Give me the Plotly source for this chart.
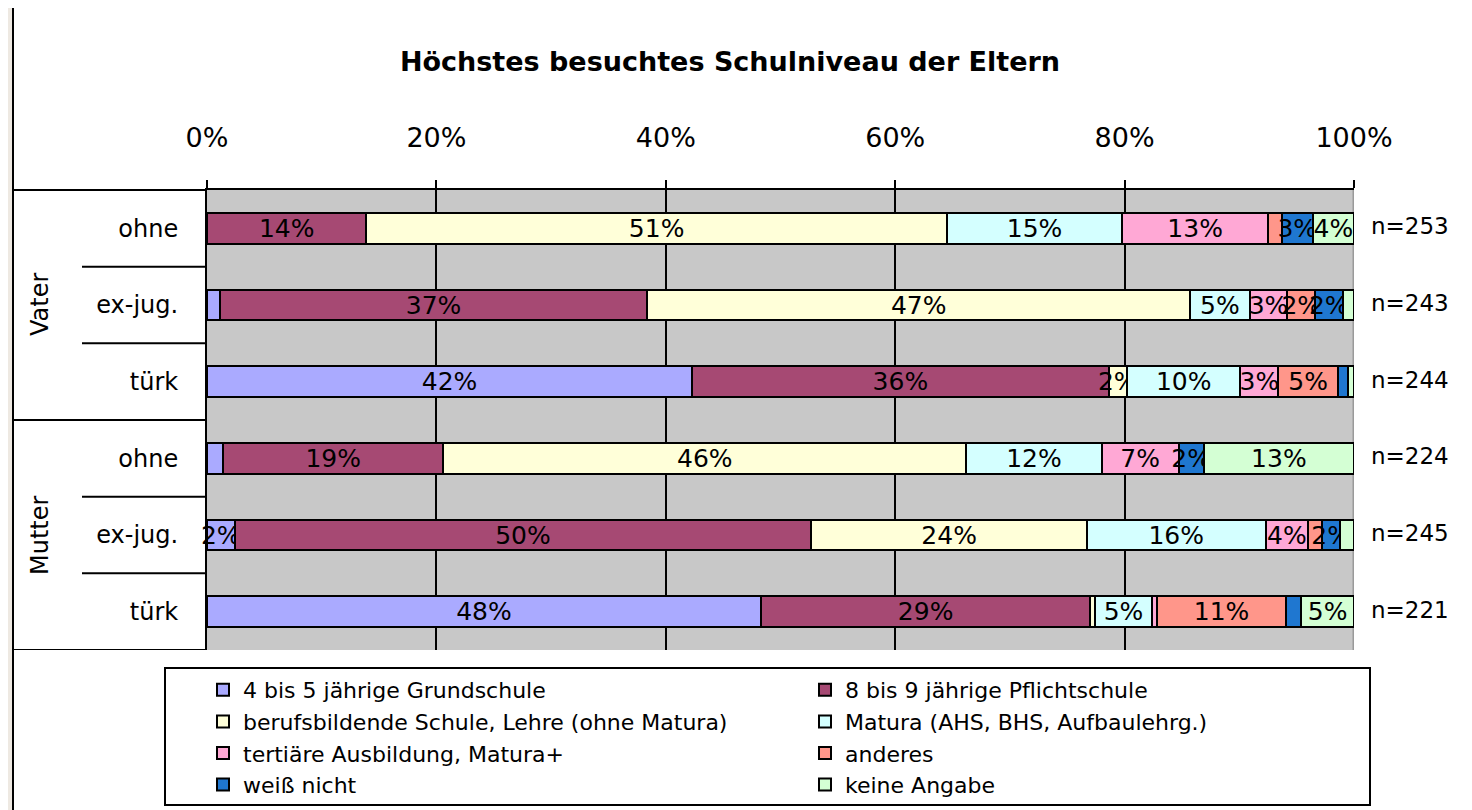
import plotly.graph_objects as go

# ---------------- data ----------------
rows = ["ohne", "ex-jug.", "türk", "ohne", "ex-jug.", "türk"]
groups = ["Vater", "Mutter"]
n_values = ["n=253", "n=243", "n=244", "n=224", "n=245", "n=221"]

series_names = [
    "4 bis 5 jährige Grundschule",
    "8 bis 9 jährige Pflichtschule",
    "berufsbildende Schule, Lehre (ohne Matura)",
    "Matura (AHS, BHS, Aufbaulehrg.)",
    "tertiäre Ausbildung, Matura+",
    "anderes",
    "weiß nicht",
    "keine Angabe",
]
grundschule = [0.0, 1.1, 42.3, 1.4, 2.4, 48.3]
pflichtschule = [13.9, 37.3, 36.3, 19.2, 50.3, 28.7]
berufsbildend = [50.6, 47.3, 1.6, 45.6, 24.0, 0.4]
matura = [15.3, 5.2, 9.9, 11.8, 15.6, 5.0]
tertiaer = [12.7, 3.3, 3.3, 6.7, 3.7, 0.4]
anderes = [1.2, 2.4, 5.2, 0.0, 1.2, 11.3]
weiss_nicht = [2.7, 2.4, 0.9, 2.2, 1.6, 1.3]
keine_angabe = [3.6, 1.0, 0.5, 13.1, 1.2, 4.6]
series_values = [grundschule, pflichtschule, berufsbildend, matura,
                 tertiaer, anderes, weiss_nicht, keine_angabe]
colors = ["#AAAAFF", "#A64973", "#FFFFD9", "#D4FFFF",
          "#FFA8D5", "#FF968A", "#1F77D0", "#D4FFD4"]
x_ticks = [0, 20, 40, 60, 80, 100]

# ---------------- geometry helpers ----------------
W, H = 1472, 810
OFF = 8  # page body margin
L, R, T, B = 207, 1354, 190, 650   # plot area in page pixels
PW, PH = R - L, B - T


def px_x(px):
    return (px - L) / PW


def px_y(py):
    return (B - py) / PH


FONT = "DejaVu Sans"
fig = go.Figure()
ypos = list(range(len(rows)))

for name, vals, col in zip(series_names, series_values, colors):
    labels = [f"{int(v + 0.5)}%" if int(v + 0.5) >= 2 else "" for v in vals]
    fig.add_trace(go.Bar(
        y=ypos, x=vals, name=name, orientation="h",
        marker=dict(color=col, line=dict(color="black", width=2)),
        text=labels, textposition="inside", insidetextanchor="middle",
        constraintext="none", textangle=0,
        insidetextfont=dict(family=FONT, size=25, color="black"),
        width=0.4, cliponaxis=False,
    ))

shapes = []
line = dict(color="black", width=2)
# table lines on the left
shapes.append(dict(type="line", xref="paper", yref="paper",
                   x0=px_x(13), x1=0, y0=1, y1=1, line=line))
shapes.append(dict(type="line", xref="paper", yref="y",
                   x0=px_x(13), x1=0, y0=2.5, y1=2.5, line=line))
shapes.append(dict(type="line", xref="paper", yref="y",
                   x0=px_x(13), x1=0, y0=5.5, y1=5.5, line=line))
for yb in [0.5, 1.5, 3.5, 4.5]:
    shapes.append(dict(type="line", xref="paper", yref="y",
                       x0=px_x(82), x1=0, y0=yb, y1=yb, line=line))
# outer frame left edge and beige strip
shapes.append(dict(type="rect", xref="paper", yref="paper",
                   x0=px_x(0), x1=px_x(12), y0=px_y(820), y1=px_y(0),
                   fillcolor="#EEE9E2", line=dict(width=0), layer="below"))
shapes.append(dict(type="line", xref="paper", yref="paper",
                   x0=px_x(13), x1=px_x(13), y0=px_y(820), y1=px_y(0), line=line))
# gray right edge of plot area
shapes.append(dict(type="line", xref="x", yref="paper",
                   x0=100, x1=100, y0=0, y1=1,
                   line=dict(color="#9A9A9A", width=3), layer="below"))
# legend box
shapes.append(dict(type="rect", xref="paper", yref="paper",
                   x0=px_x(165), x1=px_x(1370), y0=px_y(805), y1=px_y(668),
                   line=dict(color="black", width=2), fillcolor="rgba(0,0,0,0)"))

annotations = []
# group labels
for g, yc in zip(groups, [1, 4]):
    annotations.append(dict(text=g, xref="paper", yref="y", x=px_x(40), y=yc,
                            textangle=-90, showarrow=False,
                            font=dict(family=FONT, size=24, color="black"),
                            xanchor="center", yanchor="middle"))
# n labels
for i, n in enumerate(n_values):
    annotations.append(dict(text=n, xref="paper", yref="y", x=px_x(1369), y=i,
                            showarrow=False, xanchor="left", yanchor="middle",
                            yshift=2,
                            font=dict(family=FONT, size=23, color="black")))

fig.update_layout(
    width=W, height=H,
    margin=dict(l=L - OFF, r=W - (R - OFF), t=T - OFF, b=H - (B - OFF), pad=0),
    barmode="stack",
    paper_bgcolor="white",
    plot_bgcolor="#C8C8C8",
    title=dict(text="<b>Höchstes besuchtes Schulniveau der Eltern</b>",
               x=(730 - OFF) / W, xanchor="center", y=1 - (62 - OFF) / H,
               yanchor="middle",
               font=dict(family=FONT, size=27, color="black")),
    xaxis=dict(side="top", range=[0, 100], tickvals=x_ticks,
               ticktext=[f"{v}%" for v in x_ticks],
               showgrid=True, gridcolor="black", gridwidth=2,
               zeroline=False, showline=True, linecolor="black", linewidth=2,
               ticks="outside", ticklen=8, tickwidth=2, tickcolor="black",
               ticklabelstandoff=22,
               tickfont=dict(family=FONT, size=27, color="black"),
               fixedrange=True),
    yaxis=dict(range=[5.5, -0.5], tickvals=ypos, ticktext=rows,
               showgrid=False, zeroline=False, showline=True,
               linecolor="black", linewidth=2, ticks="",
               ticklabelstandoff=22,
               tickfont=dict(family=FONT, size=24, color="black"),
               fixedrange=True),
    legend=dict(orientation="h", x=px_x(203), xanchor="left",
                y=px_y(669), yanchor="top", traceorder="normal",
                entrywidth=557, bgcolor="rgba(0,0,0,0)", borderwidth=0,
                font=dict(family=FONT, size=22, color="black")),
    shapes=shapes,
    annotations=annotations,
    showlegend=True,
)

fig.write_html("out.html")
